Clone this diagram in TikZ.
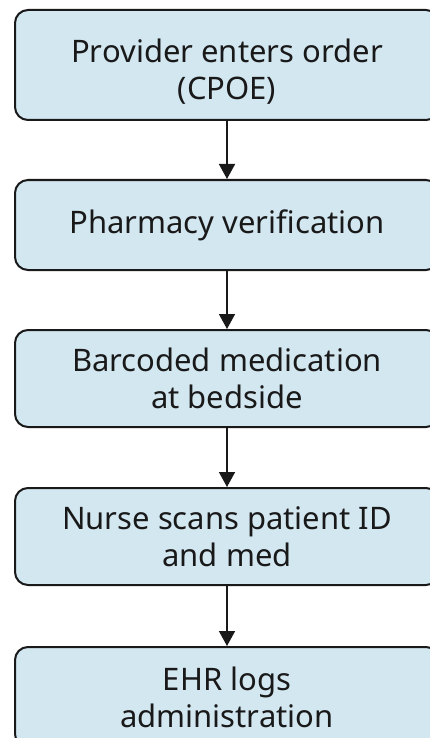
\documentclass[tikz,border=0pt]{standalone}
\usepackage{fontspec}
\setmainfont{Noto Sans}
\usetikzlibrary{arrows.meta}
\definecolor{boxfill}{RGB}{211,231,241}
\definecolor{edge}{RGB}{25,25,25}
\begin{document}
\begin{tikzpicture}[x=1pt,y=1pt,
  stepbox/.style={draw=edge, line width=2pt, fill=boxfill, rounded corners=13pt,
    minimum width=424pt, inner sep=0pt, align=center,
    font=\fontsize{31}{37}\selectfont, text=black!90},
  flow/.style={draw=edge, line width=1.6pt, -{Triangle[width=16pt,length=15pt]}}]
  \useasboundingbox (0,0) rectangle (429,-738);
  \fill[white] (0,0) rectangle (429,-738);
  \node[stepbox, minimum height=110pt] (order) at (227,-65) {\rule{0pt}{12pt}\\[-12pt]Provider enters order\\(CPOE)};
  \node[stepbox, minimum height=90pt] (pharm) at (227,-225) {Pharmacy verification};
  \node[stepbox, minimum height=97pt] (barcode) at (227,-378.5) {Barcoded medication\\at bedside};
  \node[stepbox, minimum height=97pt] (scan) at (227,-536.5) {Nurse scans patient ID\\and med};
  \node[stepbox, minimum height=100pt] (ehr) at (227,-697) {EHR logs\\administration};
  \draw[flow] (order) -- (pharm);
  \draw[flow] (pharm) -- (barcode);
  \draw[flow] (barcode) -- (scan);
  \draw[flow] (scan) -- (ehr);
\end{tikzpicture}
\end{document}
